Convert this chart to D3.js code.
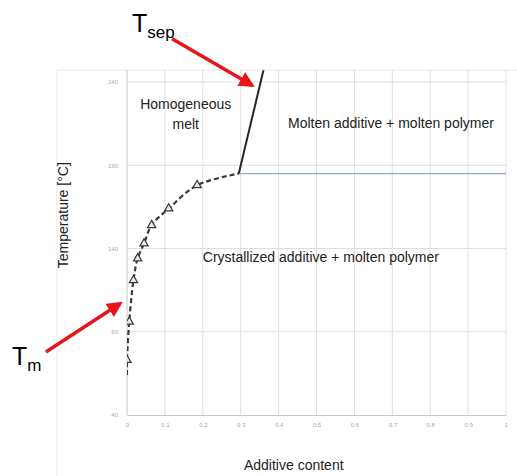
<!DOCTYPE html>
<html>
<head>
<meta charset="utf-8">
<script src="https://cdn.jsdelivr.net/npm/d3@7"></script>
<style>
  body { margin: 0; background: #fff; }
  svg { display: block; font-family: "Liberation Sans", Arial, sans-serif; }
</style>
</head>
<body>
<svg id="chart"></svg>
<script>
// liquidus curve (dashed, triangle markers)
const additive = [0, 0, 0.006, 0.017, 0.028, 0.045, 0.065, 0.11, 0.185, 0.295];
const temp     = [64, 73, 96, 121, 134, 143, 154, 164, 178, 185];
const marker   = [false, true, true, true, true, true, true, true, true, false];
// phase separation line and plateau
const sepAdd  = [0.295, 0.36];
const sepTemp = [185, 247];
const plateauAdd  = [0.295, 1];
const plateauTemp = [185, 185];
const xTicks = [0, 0.1, 0.2, 0.3, 0.4, 0.5, 0.6, 0.7, 0.8, 0.9, 1];
const yTicks = [40, 90, 140, 190, 240];

const W = 517, H = 476;
const svg = d3.select("#chart").attr("width", W).attr("height", H);

const margin = {top: 70, left: 127, right: 11, bottom: 61},
  width  = W - margin.left - margin.right,
  height = H - margin.top - margin.bottom;

const x = d3.scaleLinear().domain([0, 1]).range([margin.left, margin.left + width]);
const y = d3.scaleLinear().domain([40, 240]).range([margin.top + height, 82]);

// chart frame
svg.append("path")
  .attr("d", `M57,${H + 2}V70H${W + 2}`)
  .attr("fill", "none").attr("stroke", "#e8e8e8");

svg.append("clipPath").attr("id", "plot")
  .append("rect").attr("x", margin.left).attr("y", margin.top)
  .attr("width", width).attr("height", height);

// grid
svg.append("g").selectAll("line").data(xTicks.slice(1)).enter().append("line")
  .attr("x1", d => x(d)).attr("x2", d => x(d))
  .attr("y1", margin.top).attr("y2", margin.top + height)
  .attr("stroke", "#dedede");
svg.append("g").selectAll("line").data(yTicks.slice(1)).enter().append("line")
  .attr("x1", margin.left).attr("x2", margin.left + width)
  .attr("y1", d => y(d)).attr("y2", d => y(d))
  .attr("stroke", "#dedede");

// axes
const xAxis = svg.append("g")
  .attr("transform", `translate(0,${margin.top + height})`)
  .call(d3.axisBottom(x).tickValues(xTicks).tickSize(0).tickPadding(8).tickFormat(d => d));
const yAxis = svg.append("g")
  .attr("transform", `translate(${margin.left},0)`)
  .call(d3.axisLeft(y).tickValues(yTicks).tickSize(0).tickPadding(9));
[xAxis, yAxis].forEach(a => {
  a.select(".domain").attr("stroke", "#c8c8c8");
  a.selectAll("text").attr("fill", "#a8a8a8").attr("font-size", 6);
});
yAxis.select(".domain").remove();
svg.append("line")
  .attr("x1", margin.left).attr("x2", margin.left)
  .attr("y1", margin.top).attr("y2", margin.top + height)
  .attr("stroke", "#c8c8c8");

const g = svg.append("g").attr("clip-path", "url(#plot)");

// plateau line
g.append("path")
  .datum(d3.zip(plateauAdd, plateauTemp))
  .attr("fill", "none").attr("stroke", "#8faacc").attr("stroke-width", 1.2)
  .attr("d", d3.line().x(d => x(d[0])).y(d => y(d[1])));

// separation line
g.append("path")
  .datum(d3.zip(sepAdd, sepTemp))
  .attr("fill", "none").attr("stroke", "#262626").attr("stroke-width", 2)
  .attr("d", d3.line().x(d => x(d[0])).y(d => y(d[1])));

// liquidus curve
const pts = additive.map((a, i) => ({a, t: temp[i], m: marker[i]}));
g.append("path")
  .datum(pts)
  .attr("fill", "none").attr("stroke", "#3a3a3a").attr("stroke-width", 2.2)
  .attr("stroke-dasharray", "5,3")
  .attr("d", d3.line().curve(d3.curveCatmullRom.alpha(0.5)).x(d => x(d.a)).y(d => y(d.t)));

g.selectAll(".tri").data(pts.filter(d => d.m)).enter().append("path")
  .attr("class", "tri")
  .attr("transform", d => `translate(${x(d.a)},${y(d.t)})`)
  .attr("d", d3.symbol(d3.symbolTriangle, 30))
  .attr("fill", "#e8e8e8").attr("stroke", "#3a3a3a").attr("stroke-width", 1.2);

// region labels
const lab = (tx, ty, s, anchor) => svg.append("text")
  .attr("x", tx).attr("y", ty).attr("text-anchor", anchor || "start")
  .attr("font-size", 14).attr("fill", "#222").text(s);
lab(x(0.155), y(224), "Homogeneous", "middle");
lab(x(0.155), y(212), "melt", "middle");
lab(x(0.425), y(212.5), "Molten additive + molten polymer");
lab(x(0.2), y(132), "Crystallized additive + molten polymer");

// axis titles
svg.append("text")
  .attr("x", x(0.44)).attr("y", 470).attr("text-anchor", "middle")
  .attr("font-size", 14).attr("fill", "#222").text("Additive content");
svg.append("text")
  .attr("transform", `translate(68,${y(160)}) rotate(-90)`)
  .attr("text-anchor", "middle")
  .attr("font-size", 14).attr("fill", "#222").text("Temperature [°C]");

// annotation arrows (data units)
const arrowFrom = [[0.119, 266], [-0.214, 77.8]];
const arrowTo   = [[0.33, 238], [-0.018, 107]];
svg.append("defs").append("marker")
  .attr("id", "head").attr("viewBox", "0 0 10 10")
  .attr("refX", 8).attr("refY", 5)
  .attr("markerWidth", 4.5).attr("markerHeight", 4.5)
  .attr("orient", "auto")
  .append("path").attr("d", "M0,0L10,5L0,10Z").attr("fill", "#e8141b");
svg.selectAll(".arrow").data(d3.zip(arrowFrom, arrowTo)).enter().append("line")
  .attr("class", "arrow")
  .attr("x1", d => x(d[0][0])).attr("y1", d => y(d[0][1]))
  .attr("x2", d => x(d[1][0])).attr("y2", d => y(d[1][1]))
  .attr("stroke", "#e8141b").attr("stroke-width", 3.5)
  .attr("marker-end", "url(#head)");

// annotation labels
const ann = (tx, ty, sub) => {
  const t = svg.append("text").attr("x", tx).attr("y", ty)
    .attr("font-size", 25).attr("fill", "#000");
  t.append("tspan").text("T");
  t.append("tspan").attr("dy", 6).attr("font-size", 17).text(sub);
};
ann(132, 32, "sep");
ann(12, 365, "m");
</script>
</body>
</html>
